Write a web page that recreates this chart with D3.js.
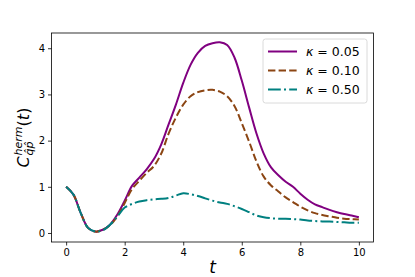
<!DOCTYPE html>
<html>
<head>
<meta charset="utf-8">
<script src="https://cdn.jsdelivr.net/npm/d3@7"></script>
<style>
  body { margin: 0; background: #fff; }
  svg { font-family: "DejaVu Sans", sans-serif; }
</style>
</head>
<body>
<div id="chart"></div>
<script>
// time grid shared by all curves
let tValues = d3.range(0, 10.001, 0.25).map(d => +d.toFixed(2));

let kappa005 = [1.0, 0.83, 0.43, 0.11, 0.03, 0.07, 0.18, 0.40, 0.70, 1.02, 1.20, 1.38, 1.60,
  1.92, 2.35, 2.78, 3.25, 3.64, 3.90, 4.05, 4.11, 4.13, 4.07, 3.80, 3.30, 2.72, 2.16, 1.72,
  1.42, 1.25, 1.11, 1.00, 0.85, 0.72, 0.62, 0.56, 0.50, 0.45, 0.41, 0.38, 0.34];
let kappa010 = [1.0, 0.83, 0.43, 0.11, 0.03, 0.07, 0.17, 0.36, 0.65, 0.95, 1.13, 1.30, 1.45,
  1.72, 2.15, 2.50, 2.78, 2.96, 3.05, 3.09, 3.10, 3.06, 2.96, 2.75, 2.38, 1.98, 1.55, 1.22,
  1.03, 0.90, 0.77, 0.67, 0.57, 0.49, 0.43, 0.39, 0.36, 0.33, 0.31, 0.30, 0.29];
let kappa050 = [1.0, 0.83, 0.43, 0.11, 0.03, 0.06, 0.18, 0.36, 0.55, 0.63, 0.68, 0.71, 0.73,
  0.74, 0.76, 0.81, 0.86, 0.84, 0.80, 0.75, 0.70, 0.66, 0.63, 0.58, 0.52, 0.45, 0.38, 0.34,
  0.32, 0.31, 0.31, 0.30, 0.29, 0.27, 0.26, 0.25, 0.25, 0.24, 0.23, 0.22, 0.22];

let xTicks = [0, 2, 4, 6, 8, 10];
let yTicks = [0, 1, 2, 3, 4];
let seriesLabels = ["0.05", "0.10", "0.50"];

let series = [
  {label: seriesLabels[0], values: kappa005, color: "#800080", dash: null},
  {label: seriesLabels[1], values: kappa010, color: "#8b4513", dash: "7.4,3.2"},
  {label: seriesLabels[2], values: kappa050, color: "#008080", dash: "12.8,3.2,2,3.2"}
];

let W = 415, H = 277;
let plot = {left: 51.5, right: 373.5, top: 33, bottom: 242};

let svg = d3.select("#chart").append("svg")
    .attr("width", W)
    .attr("height", H);

let xScale = d3.scaleLinear().domain([-0.5, 10.5]).range([plot.left, plot.right]);
let yScale = d3.scaleLinear().domain([-0.195, 4.33]).range([plot.bottom, plot.top]);

// axes
let xAxis = d3.axisBottom(xScale).tickValues(xTicks).tickSize(3.5).tickPadding(3).tickFormat(d3.format("d"));
let yAxis = d3.axisLeft(yScale).tickValues(yTicks).tickSize(3.5).tickPadding(3).tickFormat(d3.format("d"));

let gx = svg.append("g")
    .attr("transform", "translate(0," + plot.bottom + ")")
    .call(xAxis);
let gy = svg.append("g")
    .attr("transform", "translate(" + plot.left + ",0)")
    .call(yAxis);

[gx, gy].forEach(g => {
  g.select(".domain").remove();
  g.selectAll(".tick line").attr("stroke", "#000").attr("stroke-width", 0.8);
  g.selectAll(".tick text").attr("fill", "#000").style("font-size", "10px")
    .style("font-family", "DejaVu Sans");
});

// lines
let line = d3.line()
    .x((d, i) => xScale(tValues[i]))
    .y(d => yScale(d))
    .curve(d3.curveCatmullRom.alpha(0.5));

let plotArea = svg.append("g");
series.forEach(s => {
  plotArea.append("path")
      .datum(s.values)
      .attr("d", line)
      .attr("fill", "none")
      .attr("stroke", s.color)
      .attr("stroke-width", 2)
      .attr("stroke-dasharray", s.dash);
});

// spines
svg.append("rect")
    .attr("x", plot.left)
    .attr("y", plot.top)
    .attr("width", plot.right - plot.left)
    .attr("height", plot.bottom - plot.top)
    .attr("fill", "none")
    .attr("stroke", "#000")
    .attr("stroke-width", 0.8);

// legend
let legend = svg.append("g").attr("transform", "translate(263,39)");
legend.append("rect")
    .attr("width", 104)
    .attr("height", 64)
    .attr("rx", 2.5)
    .attr("fill", "#fff")
    .attr("fill-opacity", 0.8)
    .attr("stroke", "#d0d0d0")
    .attr("stroke-width", 0.8);

series.forEach((s, i) => {
  let yy = 12.5 + i * 19;
  legend.append("line")
      .attr("x1", 5).attr("x2", 34)
      .attr("y1", yy).attr("y2", yy)
      .attr("stroke", s.color)
      .attr("stroke-width", 2)
      .attr("stroke-dasharray", s.dash);
  let txt = legend.append("text")
      .attr("x", 43)
      .attr("y", yy + 4.5)
      .style("font-size", "12.5px")
      .attr("fill", "#000");
  txt.append("tspan").style("font-style", "italic").text("κ");
  txt.append("tspan").text(" = " + s.label);
});

// x label
svg.append("text")
    .attr("x", (plot.left + plot.right) / 2)
    .attr("y", 273)
    .attr("text-anchor", "middle")
    .style("font-size", "17px")
    .style("font-style", "italic")
    .text("t");

// y label: C^{herm}_{q̂p̂}(t)
let yl = svg.append("g");
let yText = yl.append("text").attr("x", 0).attr("y", 0).style("font-size", "16px");
yText.append("tspan").style("font-style", "italic").text("C");
let supX = 12;
yl.append("text").attr("x", supX).attr("y", -7).style("font-size", "11px")
    .style("font-style", "italic").text("herm");
yl.append("text").attr("x", supX).attr("y", 4).style("font-size", "11px")
    .style("font-style", "italic").text("q\u0302p\u0302");
let paren = yl.append("text").attr("x", supX + 29).attr("y", 0).style("font-size", "16px");
paren.append("tspan").text("(");
paren.append("tspan").style("font-style", "italic").text("t");
paren.append("tspan").text(")");

let bb = yl.node().getBBox();
let cx = bb.x + bb.width / 2;
yl.attr("transform", "translate(29," + ((plot.top + plot.bottom) / 2) + ") rotate(-90) translate(" + (-cx) + ",0)");
</script>
</body>
</html>
